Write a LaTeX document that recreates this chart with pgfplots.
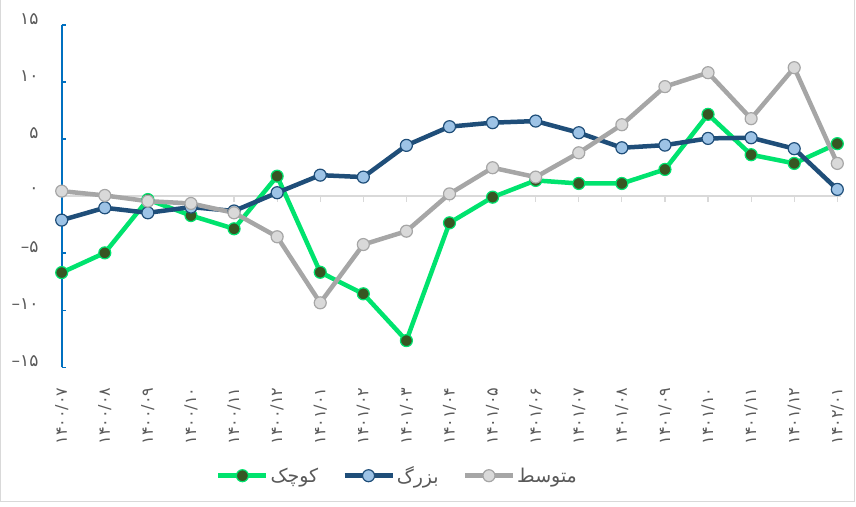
\documentclass[border=0pt]{standalone}
\usepackage{fontspec}
\usepackage{pgfplots}
\pgfplotsset{compat=1.18}
\setmainfont{DejaVu Sans}
\newfontfamily\arabicfont[Script=Arabic]{DejaVu Sans}
\newfontfamily\digitfont{DejaVu Sans}
\TeXXeTstate=1
\definecolor{cgreen}{HTML}{00E36E}
\definecolor{cgreenfill}{HTML}{375623}
\definecolor{cblue}{HTML}{1F4E79}
\definecolor{cbluefill}{HTML}{9DC3E6}
\definecolor{cgrey}{HTML}{A6A6A6}
\definecolor{cgreyfill}{HTML}{D9D9D9}
\definecolor{axblue}{HTML}{0070C0}
\definecolor{txt}{HTML}{595959}
\definecolor{zline}{HTML}{D9D9D9}
\begin{document}
\begin{tikzpicture}
\path[use as bounding box] (0,0) rectangle (856pt,506pt);
\draw[zline, line width=1pt] (0.6pt,4.3pt) rectangle (854.3pt,510pt);
\begin{axis}[
  at={(61.7pt,138.7pt)}, anchor=south west,
  scale only axis, width=775.6pt, height=342.3pt,
  xmin=0, xmax=18, ymin=-15, ymax=15,
  clip=false,
  axis line style={draw=none},
  xtick={0,...,18},
  xticklabels={۱۴۰۰/۰۷,۱۴۰۰/۰۸,۱۴۰۰/۰۹,۱۴۰۰/۱۰,۱۴۰۰/۱۱,۱۴۰۰/۱۲,۱۴۰۱/۰۱,۱۴۰۱/۰۲,۱۴۰۱/۰۳,۱۴۰۱/۰۴,۱۴۰۱/۰۵,۱۴۰۱/۰۶,۱۴۰۱/۰۷,۱۴۰۱/۰۸,۱۴۰۱/۰۹,۱۴۰۱/۱۰,۱۴۰۱/۱۱,۱۴۰۱/۱۲,۱۴۰۲/۰۱},
  xtick pos=bottom,
  x tick style={draw=none},
  xticklabel style={rotate=90, anchor=east, inner sep=0pt, font=\digitfont\fontsize{16}{18}\selectfont, text=txt},
  xticklabel shift=20pt,
  ytick={-15,-10,-5,0,5,10,15},
  yticklabels={–۱۵,–۱۰,–۵,۰,۵,۱۰,۱۵},
  ytick pos=left,
  y tick style={axblue, line width=1.5pt},
  major tick length=4pt,
  yticklabel style={anchor=east, inner sep=0pt, font=\digitfont\fontsize{17}{19}\selectfont, text=txt, yshift=6pt},
  yticklabel shift=23pt,
  legend columns=-1,
  legend style={at={(0.433,-0.3167)}, anchor=center, draw=none, fill=none,
    font=\arabicfont\fontsize{19}{21}\selectfont, text=txt,
    /tikz/every even column/.append style={column sep=22pt},
    nodes={inner sep=2pt}},
  legend image code/.code={\draw[mark repeat=2,mark phase=2] plot coordinates {(0pt,0pt)(24pt,0pt)(48pt,0pt)};},
]
\draw[zline, line width=1.5pt] (axis cs:0,0) -- (axis cs:18.08,0);
\pgfplotsinvokeforeach{1,...,18}{\draw[zline, line width=1.2pt] (axis cs:#1,0) -- ++(0pt,-6pt);}
\draw[axblue, line width=2pt] (axis cs:0,-15) -- (axis cs:0,15);
\addplot[cgreen, line width=4.5pt, mark=*, mark size=6pt, mark options={fill=cgreenfill, draw=cgreen, line width=1.2pt}]
 coordinates {(0,-6.7)(1,-4.97)(2,-0.3)(3,-1.7)(4,-2.86)(5,1.75)(6,-6.67)(7,-8.56)(8,-12.66)(9,-2.34)(10,-0.09)(11,1.38)(12,1.11)(13,1.11)(14,2.34)(15,7.17)(16,3.63)(17,2.87)(18,4.6)};
\addlegendentry{\beginR کوچک\endR}
\addplot[cblue, line width=4.5pt, mark=*, mark size=6pt, mark options={fill=cbluefill, draw=cblue, line width=1.2pt}]
 coordinates {(0,-2.1)(1,-1.02)(2,-1.46)(3,-0.96)(4,-1.3)(5,0.3)(6,1.84)(7,1.67)(8,4.45)(9,6.09)(10,6.44)(11,6.58)(12,5.56)(13,4.24)(14,4.47)(15,5.06)(16,5.12)(17,4.16)(18,0.59)};
\addlegendentry{\beginR بزرگ\endR}
\addplot[cgrey, line width=4.5pt, mark=*, mark size=6pt, mark options={fill=cgreyfill, draw=cgrey, line width=1.2pt}]
 coordinates {(0,0.44)(1,0.06)(2,-0.44)(3,-0.64)(4,-1.46)(5,-3.56)(6,-9.35)(7,-4.24)(8,-3.07)(9,0.2)(10,2.49)(11,1.67)(12,3.8)(13,6.26)(14,9.6)(15,10.82)(16,6.79)(17,11.26)(18,2.87)};
\addlegendentry{\beginR متوسط\endR}
\end{axis}
\end{tikzpicture}
\end{document}
